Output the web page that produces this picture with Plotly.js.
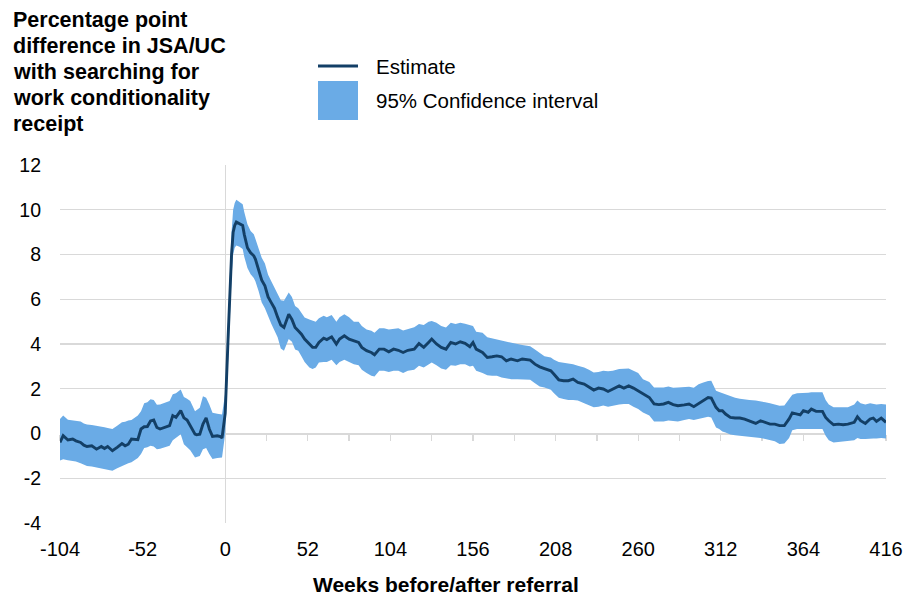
<!DOCTYPE html>
<html>
<head>
<meta charset="utf-8">
<script src="https://cdn.plot.ly/plotly-3.0.1.min.js"></script>
<style>html,body{margin:0;padding:0;background:#fff;}#chart{width:908px;height:599px;}</style>
</head>
<body>
<div id="chart"></div>
<script>
// ---- data ----
const weeks = [-104,-102,-99,-96,-94,-91,-89,-87,-84,-81,-78,-76,-74,-71,-68,-65,-63,-61,-59,-55,-53,-51,-49,-47,-45,-43,-41,-38,-35,-33,-31,-28,-26,-24,-22,-19,-18,-16,-14,-12,-10,-8,-5,-3,-2,
0,2,3,4,5,6,7,9,11,12,14,16,18,19,21,23,25,27,29,31,33,35,37,40,42,44,46,48,50,53,55,57,59,62,64,67,70,72,75,78,81,84,86,89,92,94,97,100,103,106,109,112,115,119,122,125,128,130,133,136,139,142,145,148,151,154,156,158,162,165,168,171,174,177,180,184,187,190,192,195,198,201,205,207,210,213,216,219,222,226,229,232,235,238,241,244,248,251,254,257,260,263,267,270,273,276,279,282,285,289,292,295,298,301,304,306,309,311,313,315,318,321,324,327,330,334,337,340,343,346,349,352,355,357,360,362,364,367,369,372,376,378,380,383,386,389,392,396,398,400,403,406,408,410,413,416];

const estimate = [-0.40,-0.10,-0.29,-0.25,-0.33,-0.40,-0.52,-0.58,-0.55,-0.70,-0.58,-0.67,-0.58,-0.77,-0.62,-0.45,-0.55,-0.48,-0.25,-0.28,0.20,0.30,0.31,0.56,0.60,0.27,0.20,0.27,0.35,0.80,0.72,1.02,0.70,0.60,0.35,-0.03,-0.06,-0.03,0.42,0.70,0.20,-0.13,-0.10,-0.14,-0.20,
0.90,4.60,6.60,8.00,9.00,9.30,9.45,9.38,9.30,8.90,8.30,8.08,7.94,7.80,7.27,6.85,6.60,6.10,5.85,5.60,5.20,4.85,4.74,5.33,5.10,4.74,4.59,4.44,4.22,4.00,3.85,3.85,4.07,4.26,4.20,4.32,4.00,4.22,4.37,4.22,4.14,4.07,3.85,3.70,3.62,3.52,3.77,3.77,3.65,3.77,3.72,3.62,3.72,3.77,4.02,3.85,4.07,4.22,4.00,3.85,3.77,4.07,4.00,4.10,4.03,3.88,4.07,3.77,3.62,3.40,3.43,3.47,3.43,3.25,3.33,3.25,3.33,3.28,3.28,3.10,2.98,2.90,2.80,2.65,2.40,2.36,2.36,2.43,2.28,2.21,2.09,1.94,2.03,1.99,1.88,1.99,2.13,2.03,2.13,2.03,1.91,1.79,1.61,1.32,1.29,1.32,1.39,1.29,1.24,1.28,1.32,1.20,1.34,1.46,1.61,1.58,1.17,1.02,1.02,0.87,0.72,0.69,0.69,0.64,0.57,0.45,0.57,0.50,0.42,0.42,0.35,0.35,0.65,0.92,0.87,0.83,1.02,0.95,1.09,0.99,0.99,0.72,0.57,0.39,0.42,0.39,0.42,0.50,0.75,0.57,0.45,0.65,0.69,0.54,0.69,0.50];

const ciLower = [-1.21,-1.15,-1.20,-1.22,-1.25,-1.33,-1.40,-1.45,-1.48,-1.52,-1.54,-1.56,-1.60,-1.66,-1.55,-1.44,-1.40,-1.33,-1.29,-1.10,-0.92,-0.65,-0.62,-0.55,-0.58,-0.70,-0.68,-0.62,-0.55,-0.30,-0.20,-0.03,-0.48,-0.60,-0.75,-1.07,-1.05,-1.00,-0.70,-0.65,-0.92,-1.14,-1.10,-1.07,-1.07,
0.00,3.60,5.60,7.00,8.00,8.30,8.40,8.35,8.25,7.90,7.40,7.12,6.95,6.80,6.37,5.85,5.60,5.20,4.90,4.60,4.30,3.80,3.70,4.22,4.10,3.75,3.70,3.45,3.20,2.95,2.88,2.95,3.17,3.20,3.20,3.30,3.05,3.20,3.30,3.20,3.10,3.05,2.85,2.70,2.58,2.55,2.80,2.80,2.75,2.80,2.80,2.70,2.80,2.85,3.03,2.95,3.10,3.17,3.05,2.90,2.85,3.05,3.03,3.10,3.10,3.00,3.03,2.80,2.70,2.60,2.58,2.58,2.50,2.45,2.43,2.43,2.43,2.43,2.40,2.25,2.10,2.06,1.95,1.80,1.60,1.54,1.50,1.50,1.47,1.35,1.25,1.17,1.20,1.25,1.20,1.25,1.30,1.32,1.32,1.20,1.10,0.94,0.80,0.54,0.54,0.54,0.58,0.55,0.54,0.60,0.65,0.60,0.65,0.72,0.75,0.72,0.27,0.20,0.09,0.05,-0.05,-0.08,-0.10,-0.12,-0.15,-0.20,-0.20,-0.25,-0.30,-0.35,-0.47,-0.45,-0.20,0.15,0.20,0.20,0.22,0.20,0.22,0.22,0.20,-0.10,-0.30,-0.40,-0.38,-0.33,-0.33,-0.30,-0.20,-0.25,-0.25,-0.22,-0.22,-0.22,-0.20,-0.22];

const ciUpper = [0.65,0.80,0.62,0.60,0.58,0.54,0.45,0.40,0.38,0.33,0.30,0.28,0.25,0.20,0.35,0.50,0.52,0.58,0.60,0.80,1.00,1.35,1.40,1.53,1.50,1.28,1.30,1.38,1.45,1.75,1.80,1.97,1.63,1.55,1.45,1.00,1.05,1.15,1.67,1.60,1.30,0.93,0.88,0.85,0.85,
1.80,5.60,7.60,9.00,10.00,10.30,10.45,10.35,10.25,9.90,9.35,9.05,8.90,8.70,8.31,7.85,7.60,7.10,6.80,6.52,6.20,5.95,5.93,6.30,6.10,5.70,5.60,5.40,5.18,5.10,5.04,5.00,5.15,5.26,5.20,5.30,5.00,5.20,5.33,5.20,5.00,5.00,4.80,4.65,4.59,4.50,4.70,4.70,4.65,4.66,4.70,4.60,4.66,4.75,4.89,4.85,5.00,5.03,4.95,4.80,4.74,4.95,4.89,4.95,4.90,4.85,4.81,4.55,4.50,4.30,4.25,4.22,4.15,4.10,4.07,4.00,3.95,3.92,3.90,3.75,3.60,3.45,3.40,3.30,3.20,3.17,3.15,3.10,3.03,2.95,2.85,2.73,2.75,2.80,2.78,2.80,2.88,2.88,2.90,2.80,2.70,2.43,2.30,2.06,2.06,2.06,2.10,2.05,2.06,2.06,2.09,2.05,2.20,2.28,2.35,2.36,1.91,1.85,1.80,1.76,1.65,1.60,1.55,1.54,1.50,1.47,1.45,1.40,1.35,1.30,1.24,1.25,1.54,1.73,1.80,1.80,1.81,1.82,1.84,1.84,1.84,1.50,1.30,1.17,1.17,1.17,1.17,1.30,1.47,1.35,1.30,1.35,1.32,1.30,1.32,1.30];

const xTicks = [-104,-52,0,52,104,156,208,260,312,364,416];
const yTicks = [-4,-2,0,2,4,6,8,10,12];
const seriesNames = ['Estimate','95% Confidence interval'];
const titleLines = ['Percentage point','difference in JSA/UC','with searching for','work conditionality','receipt'];
const xTitleText = 'Weeks before/after referral';

// ---- styling ----
const navy = '#133f66';
const band = '#6aabe6';
const grid = '#d9d9d9';
const FONT = '"Liberation Sans", Arial, sans-serif';

const L = 60, R = 886, T = 165, B = 523, W = 908, H = 599;
const px = v => (v - L) / (R - L);
const py = v => (B - v) / (B - T);

const traces = [
  {x: weeks, y: ciLower, type: 'scatter', mode: 'lines', line: {width: 0, color: band},
   showlegend: false, hoverinfo: 'skip'},
  {x: weeks, y: ciUpper, type: 'scatter', mode: 'lines', line: {width: 0, color: band},
   fill: 'tonexty', fillcolor: band, name: seriesNames[1], showlegend: false},
  {x: weeks, y: estimate, type: 'scatter', mode: 'lines', xaxis: 'x2',
   line: {width: 2.9, color: navy}, name: seriesNames[0], showlegend: false}
];

const titleAnns = titleLines.map((t, i) => ({
  text: t, xref: 'paper', yref: 'paper', x: px(11), y: py(20 + i * 26), xanchor: 'left', yanchor: 'middle',
  align: 'left', showarrow: false, font: {size: 21.5, family: FONT, color: '#000', weight: 'bold'}
}));

const layout = {
  width: W, height: H,
  margin: {l: L, r: W - R, t: T, b: H - B, pad: 0},
  paper_bgcolor: '#fff', plot_bgcolor: '#fff',
  font: {family: FONT, color: '#000', size: 19},
  showlegend: false,
  xaxis: {
    range: [-104, 416], tickmode: 'array', tickvals: xTicks, ticktext: xTicks.map(String),
    showgrid: false, zeroline: true, zerolinecolor: grid, zerolinewidth: 1.3,
    showline: false, ticks: '', ticklabelstandoff: 12, tickfont: {size: 20, family: FONT}
  },
  xaxis2: {
    overlaying: 'x', matches: 'x', anchor: 'free', position: 0.25,
    range: [-104, 416], tick0: -104, dtick: 26, ticks: 'outside', ticklen: 6, tickwidth: 1.3,
    tickcolor: grid, showline: true, linecolor: grid, linewidth: 1.3,
    showticklabels: false, showgrid: false, zeroline: false, layer: 'below traces'
  },
  yaxis: {
    range: [-4, 12], tickmode: 'array', tickvals: yTicks, ticktext: yTicks.map(String),
    showgrid: true, gridcolor: grid, gridwidth: 1.3, zeroline: false, showline: false,
    ticks: '', ticklabelstandoff: 18, tickfont: {size: 19.5, family: FONT}
  },
  shapes: [
    {type: 'line', xref: 'paper', yref: 'paper', x0: px(318), x1: px(358), y0: py(66), y1: py(66),
     line: {color: navy, width: 2.9}},
    {type: 'rect', xref: 'paper', yref: 'paper', x0: px(318), x1: px(358), y0: py(81), y1: py(120),
     fillcolor: band, line: {width: 0}}
  ],
  annotations: titleAnns.concat([
    {text: seriesNames[0], xref: 'paper', yref: 'paper', x: px(374), y: py(66), xanchor: 'left', yanchor: 'middle',
     showarrow: false, font: {size: 20.5, family: FONT, color: '#000'}},
    {text: seriesNames[1], xref: 'paper', yref: 'paper', x: px(374), y: py(101), xanchor: 'left', yanchor: 'middle',
     showarrow: false, font: {size: 20.5, family: FONT, color: '#000'}},
    {text: '<b>' + xTitleText + '</b>', xref: 'paper', yref: 'paper', x: px(446), y: py(584), xanchor: 'center', yanchor: 'middle',
     showarrow: false, font: {size: 21, family: FONT, color: '#000'}}
  ])
};

Plotly.newPlot('chart', traces, layout, {staticPlot: true, displayModeBar: false});
</script>
</body>
</html>
